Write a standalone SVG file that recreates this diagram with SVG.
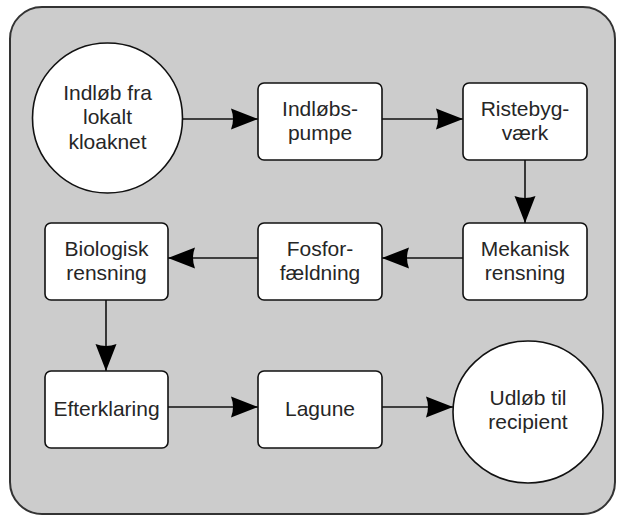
<svg xmlns="http://www.w3.org/2000/svg" width="619" height="517" viewBox="0 0 619 517">
  <style>
    .node { fill: #ffffff; stroke: #111111; stroke-width: 1.6; }
    .lbl { font-family: "Liberation Sans", Arial, Helvetica, sans-serif; font-size: 21px; fill: #262626; text-anchor: middle; }
    .edge { stroke: #111111; stroke-width: 1.6; fill: none; marker-end: url(#arrow); }
  </style>
  <defs>
    <marker id="arrow" markerUnits="userSpaceOnUse" markerWidth="28" markerHeight="22" refX="27" refY="11" orient="auto">
      <path d="M0,0.5 L27,11 L0,21.5 Q4,11 0,0.5 z" fill="#000000"/>
    </marker>
  </defs>
  <rect x="0" y="0" width="619" height="517" fill="#ffffff"/>
  <rect id="container" x="10" y="7" width="605" height="507" rx="32" ry="32" fill="#cccccc" stroke="#333333" stroke-width="2"/>

  <g id="connectors">
    <line class="edge" x1="182" y1="119" x2="258" y2="119"/>
    <line class="edge" x1="382" y1="119" x2="463" y2="119"/>
    <line class="edge" x1="525" y1="160" x2="525" y2="223"/>
    <line class="edge" x1="463" y1="258" x2="382" y2="258"/>
    <line class="edge" x1="258" y1="258" x2="168" y2="258"/>
    <line class="edge" x1="106" y1="300" x2="106" y2="371"/>
    <line class="edge" x1="168" y1="407" x2="258" y2="407"/>
    <line class="edge" x1="382" y1="407" x2="453" y2="407"/>
  </g>

  <g id="indloeb">
    <circle class="node" cx="107.5" cy="118" r="75"/>
    <text class="lbl" x="107.5" y="100">Indløb fra</text>
    <text class="lbl" x="107.5" y="124">lokalt</text>
    <text class="lbl" x="107.5" y="149">kloaknet</text>
  </g>
  <g id="indloebspumpe">
    <rect class="node" x="258" y="83" width="124" height="77" rx="6"/>
    <text class="lbl" x="320" y="116">Indløbs-</text>
    <text class="lbl" x="320" y="140">pumpe</text>
  </g>
  <g id="ristebygvaerk">
    <rect class="node" x="463" y="83" width="124" height="77" rx="6"/>
    <text class="lbl" x="525" y="116">Ristebyg-</text>
    <text class="lbl" x="525" y="140">værk</text>
  </g>
  <g id="mekanisk">
    <rect class="node" x="463" y="223" width="124" height="77" rx="6"/>
    <text class="lbl" x="525" y="256">Mekanisk</text>
    <text class="lbl" x="525" y="280">rensning</text>
  </g>
  <g id="fosforfaeldning">
    <rect class="node" x="258" y="223" width="124" height="77" rx="6"/>
    <text class="lbl" x="320" y="256">Fosfor-</text>
    <text class="lbl" x="320" y="280">fældning</text>
  </g>
  <g id="biologisk">
    <rect class="node" x="45" y="223" width="123" height="77" rx="6"/>
    <text class="lbl" x="106.5" y="256">Biologisk</text>
    <text class="lbl" x="106.5" y="280">rensning</text>
  </g>
  <g id="efterklaring">
    <rect class="node" x="45" y="371" width="123" height="77" rx="6"/>
    <text class="lbl" x="106.5" y="416">Efterklaring</text>
  </g>
  <g id="lagune">
    <rect class="node" x="258" y="371" width="124" height="77" rx="6"/>
    <text class="lbl" x="320" y="416">Lagune</text>
  </g>
  <g id="udloeb">
    <ellipse class="node" cx="528" cy="412" rx="75" ry="71"/>
    <text class="lbl" x="528" y="405">Udløb til</text>
    <text class="lbl" x="528" y="429">recipient</text>
  </g>
</svg>
